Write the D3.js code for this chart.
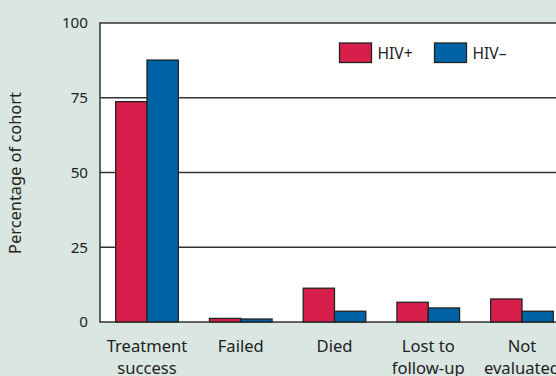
<!DOCTYPE html>
<html>
<head>
<meta charset="utf-8">
<script src="https://cdn.jsdelivr.net/npm/d3@7"></script>
<style>
  html, body { margin: 0; padding: 0; background: #d9e6e1; }
  svg { display: block; }
  text { font-family: "Noto Sans", "Open Sans", sans-serif; fill: #222; }
</style>
</head>
<body>
<svg id="chart" width="556" height="376"></svg>
<script>
// Treatment outcomes by HIV status (% of cohort)
const categories = [["Treatment", "success"], ["Failed"], ["Died"], ["Lost to", "follow-up"], ["Not", "evaluated"]];
const seriesNames = ["HIV+", "HIV\u2013"];
const hivPos = [73.7, 1.2, 11.3, 6.6, 7.7];
const hivNeg = [87.6, 1.0, 3.6, 4.7, 3.6];
const yTicks = [0, 25, 50, 75, 100];
const colors = ["#d81e4b", "#0063a6"];

const svg = d3.select("#chart");
const plotLeft = 100, plotTop = 23, plotBottom = 322, plotRight = 569;

const keys = categories.map((c, i) => i);
const x0 = d3.scaleBand().domain(keys).range([plotLeft, plotRight]).paddingInner(0.332).paddingOuter(0.1675);
const x1 = d3.scaleBand().domain([0, 1]).range([0, x0.bandwidth()]);
const y = d3.scaleLinear().domain([0, 100]).range([plotBottom, plotTop]);

// plot background
svg.append("rect").attr("x", plotLeft).attr("y", plotTop)
  .attr("width", plotRight - plotLeft).attr("height", plotBottom - plotTop).attr("fill", "#fff");

// horizontal gridlines
svg.append("g").selectAll("line").data(yTicks).join("line")
  .attr("x1", plotLeft).attr("x2", plotRight)
  .attr("y1", d => y(d)).attr("y2", d => y(d))
  .attr("stroke", "#333").attr("stroke-width", 1.5);

// left frame
svg.append("line").attr("x1", plotLeft).attr("x2", plotLeft).attr("y1", plotTop - 0.75).attr("y2", plotBottom + 0.75)
  .attr("stroke", "#333").attr("stroke-width", 1.5);

// y axis labels
const yAxis = d3.axisLeft(y).tickValues(yTicks).tickSize(0).tickPadding(12);
const yg = svg.append("g").attr("transform", `translate(${plotLeft},0)`).call(yAxis);
yg.select(".domain").remove();
yg.selectAll("text").style("font-size", "15.2px").attr("fill", "#222")
  .style("font-family", '"Noto Sans", "Open Sans", sans-serif');

svg.append("text")
  .attr("transform", "translate(21,173) rotate(-90)")
  .attr("text-anchor", "middle").style("font-size", "16.4px")
  .text("Percentage of cohort");

// bars
const data = keys.map(i => [hivPos[i], hivNeg[i]]);
const groups = svg.append("g").selectAll("g").data(data).join("g")
  .attr("transform", (d, i) => `translate(${x0(i)},0)`);
groups.selectAll("rect").data(d => d).join("rect")
  .attr("x", (d, j) => x1(j)).attr("width", x1.bandwidth())
  .attr("y", d => y(d)).attr("height", d => y(0) - y(d))
  .attr("fill", (d, j) => colors[j])
  .attr("stroke", "#222").attr("stroke-width", 1.3);

// category labels
const lab = svg.append("g").selectAll("text").data(categories).join("text")
  .attr("text-anchor", "middle").style("font-size", "16.6px")
  .attr("x", (d, i) => x0(i) + x0.bandwidth() / 2)
  .attr("y", 352);
lab.selectAll("tspan").data(d => d).join("tspan")
  .attr("x", function () { return this.parentNode.getAttribute("x"); })
  .attr("dy", (d, j) => j === 0 ? 0 : 22)
  .text(d => d);

// legend
const legend = svg.append("g").selectAll("g").data(seriesNames).join("g")
  .attr("transform", (d, i) => `translate(${339.5 + i * 95},43)`);
legend.append("rect").attr("width", 32).attr("height", 19.5)
  .attr("fill", (d, i) => colors[i]).attr("stroke", "#222").attr("stroke-width", 1.3);
legend.append("text").attr("x", 38).attr("y", 16.3).style("font-size", "15.6px").text(d => d);
</script>
</body>
</html>
